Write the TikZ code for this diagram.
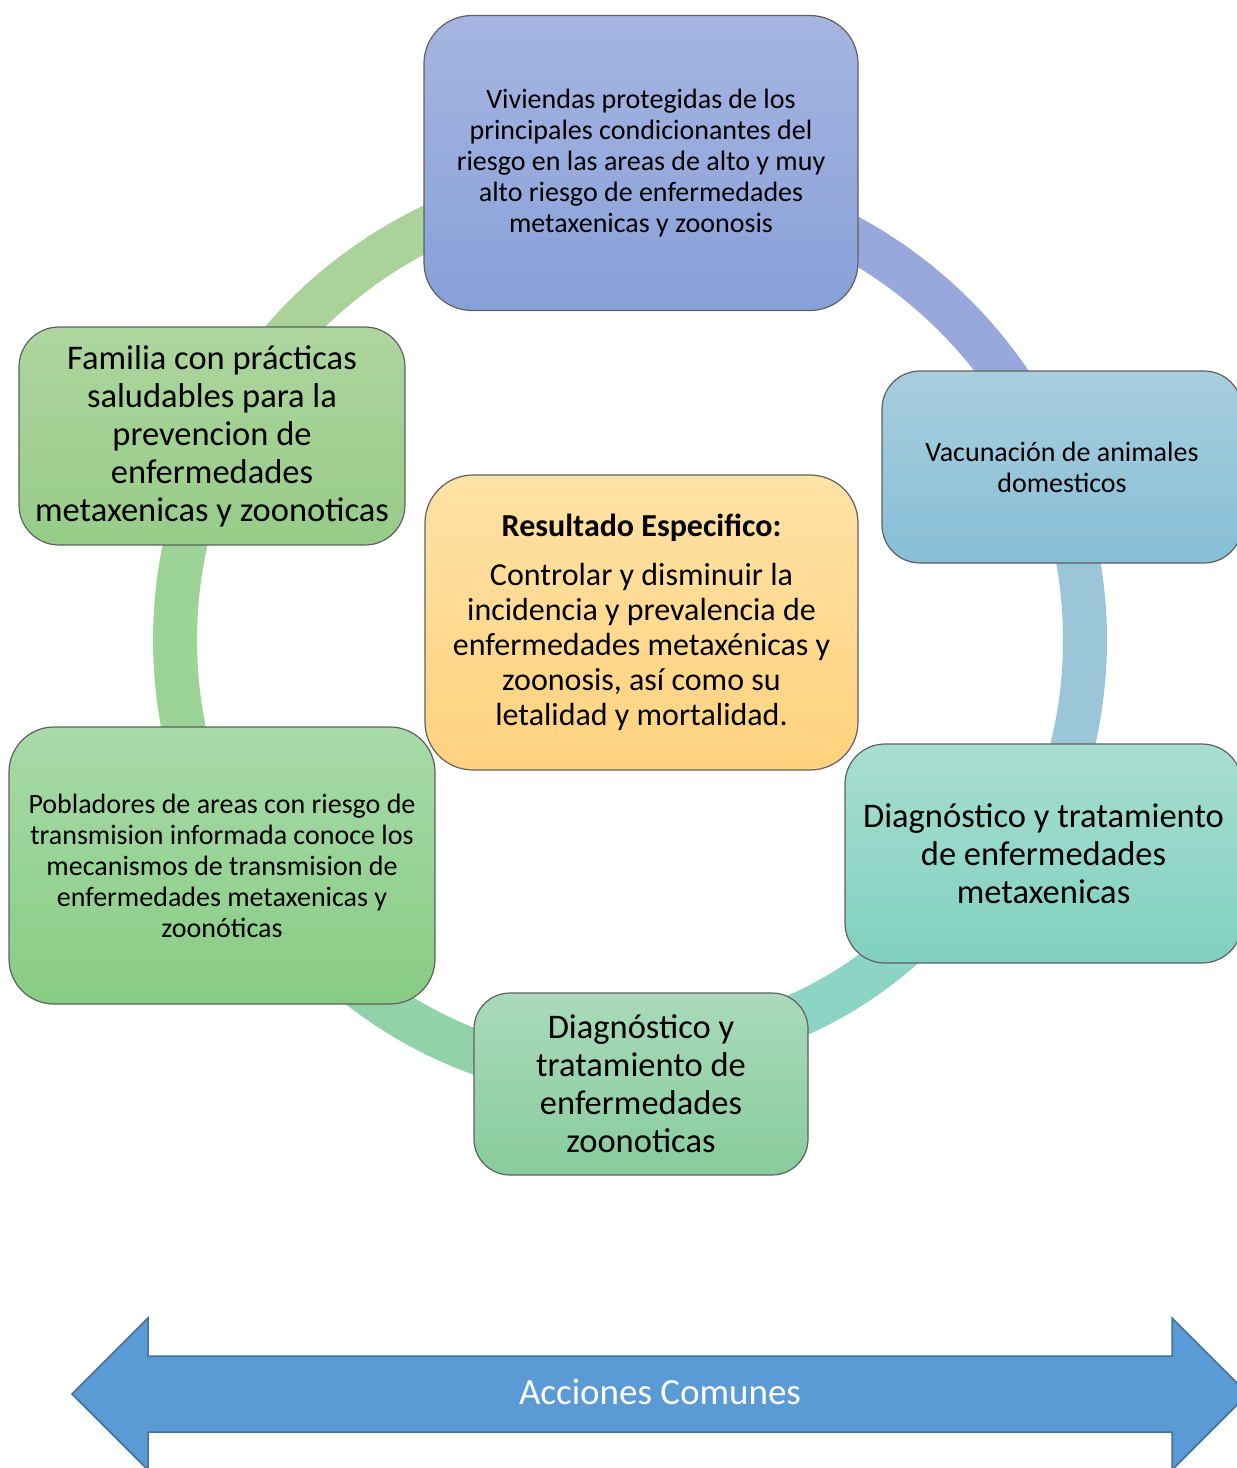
\documentclass[tikz,border=0pt]{standalone}
\usepackage{fontspec}
\setmainfont{Carlito}
\definecolor{boxedge}{RGB}{96,96,96}
\definecolor{vivTop}{RGB}{166,181,225}
\definecolor{vivBot}{RGB}{136,160,216}
\definecolor{vacTop}{RGB}{168,206,222}
\definecolor{vacBot}{RGB}{134,190,214}
\definecolor{metTop}{RGB}{168,222,208}
\definecolor{metBot}{RGB}{128,208,192}
\definecolor{zooTop}{RGB}{170,218,186}
\definecolor{zooBot}{RGB}{136,204,156}
\definecolor{pobTop}{RGB}{168,218,168}
\definecolor{pobBot}{RGB}{136,204,132}
\definecolor{famTop}{RGB}{174,213,158}
\definecolor{famBot}{RGB}{150,204,136}
\definecolor{resTop}{RGB}{255,226,166}
\definecolor{resBot}{RGB}{255,210,126}
\definecolor{ringA}{RGB}{152,168,220}
\definecolor{ringB}{RGB}{154,198,216}
\definecolor{ringC}{RGB}{140,212,196}
\definecolor{ringD}{RGB}{146,210,168}
\definecolor{ringE}{RGB}{156,212,152}
\definecolor{ringF}{RGB}{172,210,156}
\definecolor{arrowfill}{RGB}{91,155,213}
\definecolor{arrowedge}{RGB}{65,113,156}
\tikzstyle{cycle_box} =
  [ rectangle
  , draw=boxedge
  , line width=1.2pt
  , align=center
  , inner sep=0pt
  ]
\tikzstyle{ring_part} =
  [ line width=44pt
  ]
\tikzstyle{small_text} =
  [ font=\fontsize{28}{31}\selectfont
  ]
\tikzstyle{large_text} =
  [ font=\fontsize{34.5}{38}\selectfont
  ]
\tikzstyle{arrow_band} =
  [ fill=arrowfill
  , draw=arrowedge
  , line width=1.5pt
  , line join=miter
  ]

\begin{document}
\begin{tikzpicture}[x=1pt, y=-1pt]
    \useasboundingbox (0,0) rectangle (1237,1468);

    % ring behind the boxes
    \coordinate (ring_center) at (630,640);
    \foreach \from/\to/\rad/\col in {90/22/459/ringA, 22/-27/455/ringB, -27/-90/411/ringC, -90/-151/440/ringD, -151/-206/455/ringE, -206/-270/459/ringF}
      \draw[ring_part, \col] ([shift={(\from:\rad pt)}]ring_center) arc[start angle=\from, end angle=\to, radius=\rad pt];

    \node[cycle_box, small_text, rounded corners=48pt, minimum width=434pt, minimum height=295pt, top color=vivTop, bottom color=vivBot] (viviendas) at (641,163)
      {Viviendas protegidas de los\\principales condicionantes del\\riesgo en las areas de alto y muy\\alto riesgo de enfermedades\\metaxenicas y zoonosis};
    \node[cycle_box, small_text, rounded corners=38pt, minimum width=360pt, minimum height=192pt, top color=vacTop, bottom color=vacBot] (vacunacion) at (1062,467)
      {Vacunación de animales\\domesticos};
    \node[cycle_box, large_text, rounded corners=40pt, minimum width=397pt, minimum height=219pt, top color=metTop, bottom color=metBot] (diag_metax) at (1043.5,853.5)
      {Diagnóstico y tratamiento\\de enfermedades\\metaxenicas};
    \node[cycle_box, large_text, rounded corners=36pt, minimum width=334pt, minimum height=182pt, top color=zooTop, bottom color=zooBot] (diag_zoon) at (641,1084)
      {Diagnóstico y\\tratamiento de\\enfermedades\\zoonoticas};
    \node[cycle_box, small_text, rounded corners=45pt, minimum width=426pt, minimum height=277pt, top color=pobTop, bottom color=pobBot] (pobladores) at (222,865.5)
      {Pobladores de areas con riesgo de\\transmision informada conoce los\\mecanismos de transmision de\\enfermedades metaxenicas y\\zoonóticas};
    \node[cycle_box, large_text, rounded corners=40pt, minimum width=386pt, minimum height=218pt, top color=famTop, bottom color=famBot] (familia) at (212,436)
      {Familia con prácticas\\saludables para la\\prevencion de\\enfermedades\\metaxenicas y zoonoticas};

    \node[cycle_box, font=\fontsize{32}{35}\selectfont, rounded corners=48pt, minimum width=433pt, minimum height=295pt, top color=resTop, bottom color=resBot] (resultado) at (641.5,622.5)
      {{\bfseries Resultado Especifico:}\\[14pt]Controlar y disminuir la\\incidencia y prevalencia de\\enfermedades metaxénicas y\\zoonosis, así como su\\letalidad y mortalidad.};

    % common actions band
    \draw[arrow_band] (72,1394) -- (148,1318) -- (148,1356) -- (1172,1356) -- (1172,1318) -- (1248,1394)
      -- (1172,1470) -- (1172,1432) -- (148,1432) -- (148,1470) -- cycle;
    \node[text=white, font=\fontsize{37}{42}\selectfont] (acciones) at (660,1392) {Acciones Comunes};
\end{tikzpicture}
\end{document}
